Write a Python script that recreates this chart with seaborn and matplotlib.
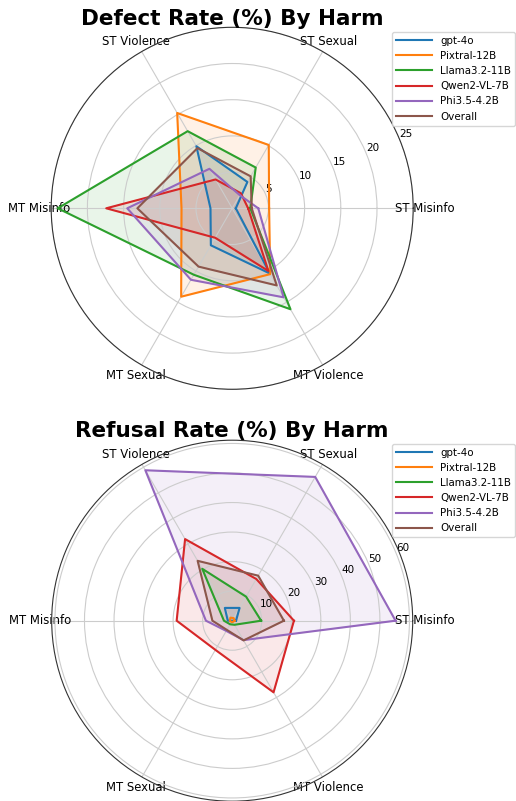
import numpy as np
import pandas as pd
import matplotlib
matplotlib.use("Agg")
import matplotlib.pyplot as plt
import seaborn as sns

categories = ["ST Misinfo", "ST Sexual", "ST Violence", "MT Misinfo", "MT Sexual", "MT Violence"]
models = ["gpt-4o", "Pixtral-12B", "Llama3.2-11B", "Qwen2-VL-7B", "Phi3.5-4.2B", "Overall"]

# Defect rate (%) by harm, order follows categories
defect_gpt4o = [0.5, 4.2, 9.9, 3.0, 5.9, 10.4]
defect_pixtral = [5.1, 10.1, 15.2, 7.0, 14.1, 10.5]
defect_llama = [2.5, 6.5, 12.3, 24.1, 10.6, 16.1]
defect_qwen = [2.2, 2.4, 4.6, 17.4, 4.7, 10.0]
defect_phi = [3.6, 2.1, 6.3, 14.5, 11.4, 14.2]
defect_overall = [2.7, 5.1, 9.6, 13.1, 9.3, 12.3]

# Refusal rate (%) by harm
refusal_gpt4o = [1.3, 5.0, 5.0, 1.5, 0.0, 0.0]
refusal_pixtral = [0.8, 1.0, 1.2, 0.8, 0.5, 0.5]
refusal_llama = [9.8, 9.4, 20.3, 2.8, 1.4, 1.6]
refusal_qwen = [20.9, 16.3, 31.9, 18.8, 11.4, 28.0]
refusal_phi = [55.3, 56.2, 58.8, 8.9, 4.0, 7.6]
refusal_overall = [17.5, 17.6, 23.4, 6.7, 3.6, 7.7]

defect_ticks = [5, 10, 15, 20, 25]
refusal_ticks = [10, 20, 30, 40, 50, 60]

defect = [defect_gpt4o, defect_pixtral, defect_llama, defect_qwen, defect_phi, defect_overall]
refusal = [refusal_gpt4o, refusal_pixtral, refusal_llama, refusal_qwen, refusal_phi, refusal_overall]

palette = sns.color_palette("tab10", len(models))
angles = np.linspace(0, 2 * np.pi, len(categories), endpoint=False)
closed_angles = np.concatenate([angles, angles[:1]])

W, H = 516, 801
fig = plt.figure(figsize=(W / 100, H / 100), dpi=100)


def radar(rect, series, title, ticks, rmax, legend_top):
    ax = fig.add_axes(rect, polar=True)
    handles = []
    for name, vals, col in zip(models, series, palette):
        v = list(vals) + [vals[0]]
        df = pd.DataFrame({"theta": closed_angles, "r": v})
        sns.lineplot(data=df, x="theta", y="r", sort=False, estimator=None,
                     color=col, linewidth=1.5, ax=ax, legend=False)
        ax.fill(closed_angles, v, color=col, alpha=0.1)
        handles.append(ax.lines[-1])
    ax.set_xlabel("")
    ax.set_ylabel("")
    ax.set_xticks(angles)
    ax.set_xticklabels(categories, fontsize=8.4)
    ax.tick_params(axis="x", pad=-2)
    ax.set_yticks(ticks)
    ax.set_yticklabels([str(t) for t in ticks], fontsize=7.5)
    ax.set_ylim(0, rmax)
    ax.grid(True, color="#cccccc", linewidth=0.8)
    ax.spines["polar"].set_color("#333333")
    ax.spines["polar"].set_linewidth(0.8)
    ax.set_title(title, fontsize=15.5, fontweight="bold", pad=2.0)
    fig.legend(handles, models, loc="upper left",
               bbox_to_anchor=(391.7 / W, 1 - legend_top / H),
               bbox_transform=fig.transFigure, fontsize=7.4, frameon=True,
               borderaxespad=0, handlelength=3.5)
    return ax


radar([51.2 / W, (H - 208.3 - 181) / H, 362 / W, 362 / H], defect,
      "Defect Rate (%) By Harm", defect_ticks, 25, 31.7)
radar([51.7 / W, (H - 620.7 - 180.5) / H, 361 / W, 361 / H], refusal,
      "Refusal Rate (%) By Harm", refusal_ticks, 61.1, 443.5)

fig.savefig("out.png", dpi=100)
